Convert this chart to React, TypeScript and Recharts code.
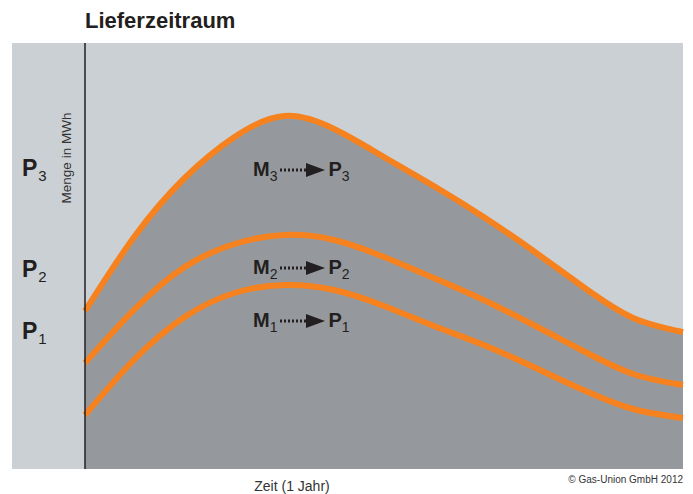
import { ComposedChart, Area, Line, XAxis, YAxis, ReferenceLine } from "recharts"

// Monate über ein Lieferjahr
const months = [0, 1, 2, 3, 4, 5, 6, 7, 8, 9, 10, 11, 12]
// Menge (relativ)
const mengeP3 = [158, 233, 291, 332, 353, 340, 312, 283, 252, 218, 182, 151, 137]
const mengeP2 = [106, 160, 202, 225, 234, 229, 212, 191, 169, 144, 118, 95, 84]
const mengeP1 = [54, 110, 152, 176, 184, 179, 163, 143, 124, 102, 79, 60, 51]

const priceLevels = ["3", "2", "1"]

const data = months.map((m, i) => ({
  month: m,
  p3: mengeP3[i],
  p2: mengeP2[i],
  p1: mengeP1[i],
}))

const ORANGE = "#f5821f"
const LIGHT = "#cbd0d4"
const DARK = "#95999d"
const INK = "#231f20"
const FONT = "'Liberation Sans', Arial, sans-serif"

function PLabel({ n, top }: { n: string; top: number }) {
  return (
    <div style={{ position: "absolute", left: 22, top, fontFamily: FONT, color: INK, fontSize: 23, fontWeight: 700, lineHeight: "24px" }}>
      P<span style={{ fontSize: 15, fontWeight: 400, position: "relative", top: 5, marginLeft: 1 }}>{n}</span>
    </div>
  )
}

function MArrow({ n, top }: { n: string; top: number }) {
  return (
    <div style={{ position: "absolute", left: 253, top, display: "flex", alignItems: "center", fontFamily: FONT, color: INK, fontSize: 20, fontWeight: 700, lineHeight: "22px" }}>
      <span>
        M<span style={{ fontSize: 14, fontWeight: 400, position: "relative", top: 5 }}>{n}</span>
      </span>
      <svg width={48} height={20} style={{ marginLeft: 2 }}>
        <line x1={1} y1={10} x2={28} y2={10} stroke={INK} strokeWidth={3} strokeDasharray="2 2" />
        <polygon points="27,3 46,10 27,17" fill={INK} />
      </svg>
      <span style={{ marginLeft: 1 }}>
        P<span style={{ fontSize: 14, fontWeight: 400, position: "relative", top: 5 }}>{n}</span>
      </span>
    </div>
  )
}

export default function App() {
  return (
    <div style={{ position: "absolute", left: 0, top: 0, width: 693, height: 494, background: "#fff", overflow: "hidden" }}>
      <div style={{ position: "absolute", left: 12, top: 43, width: 671, height: 426, background: LIGHT }} />
      <div style={{ position: "absolute", left: 0, top: 0 }}>
        <ComposedChart width={693} height={494} data={data} margin={{ top: 43, right: 10, bottom: 25, left: 85 }}>
          <XAxis dataKey="month" type="number" domain={[0, 12]} hide />
          <YAxis type="number" domain={[0, 426]} hide />
          <Area type="natural" dataKey="p3" fill={DARK} fillOpacity={1} stroke={ORANGE} strokeWidth={6} isAnimationActive={false} dot={false} activeDot={false} />
          <Line type="natural" dataKey="p2" stroke={ORANGE} strokeWidth={6} isAnimationActive={false} dot={false} activeDot={false} />
          <Line type="natural" dataKey="p1" stroke={ORANGE} strokeWidth={6} isAnimationActive={false} dot={false} activeDot={false} />
          <ReferenceLine x={0} stroke={INK} strokeWidth={1.5} />
        </ComposedChart>
      </div>

      <div style={{ position: "absolute", left: 85, top: 8, fontFamily: FONT, fontSize: 22, fontWeight: 700, color: INK }}>
        Lieferzeitraum
      </div>

      <div
        style={{
          position: "absolute",
          left: 66,
          top: 158,
          transform: "translate(-50%, -50%) rotate(-90deg)",
          fontFamily: FONT,
          fontSize: 13.5,
          color: "#333",
          whiteSpace: "nowrap",
        }}
      >
        Menge in MWh
      </div>

      <PLabel n={priceLevels[0]} top={156} />
      <PLabel n={priceLevels[1]} top={257} />
      <PLabel n={priceLevels[2]} top={319} />

      <MArrow n={priceLevels[0]} top={158} />
      <MArrow n={priceLevels[1]} top={256} />
      <MArrow n={priceLevels[2]} top={309} />

      <div style={{ position: "absolute", left: 292, top: 486, transform: "translate(-50%, -50%)", fontFamily: FONT, fontSize: 14, color: "#333", whiteSpace: "nowrap" }}>
        Zeit (1 Jahr)
      </div>
      <div style={{ position: "absolute", right: 10, top: 474, fontFamily: FONT, fontSize: 10, color: "#333", whiteSpace: "nowrap" }}>
        © Gas-Union GmbH 2012
      </div>
    </div>
  )
}
